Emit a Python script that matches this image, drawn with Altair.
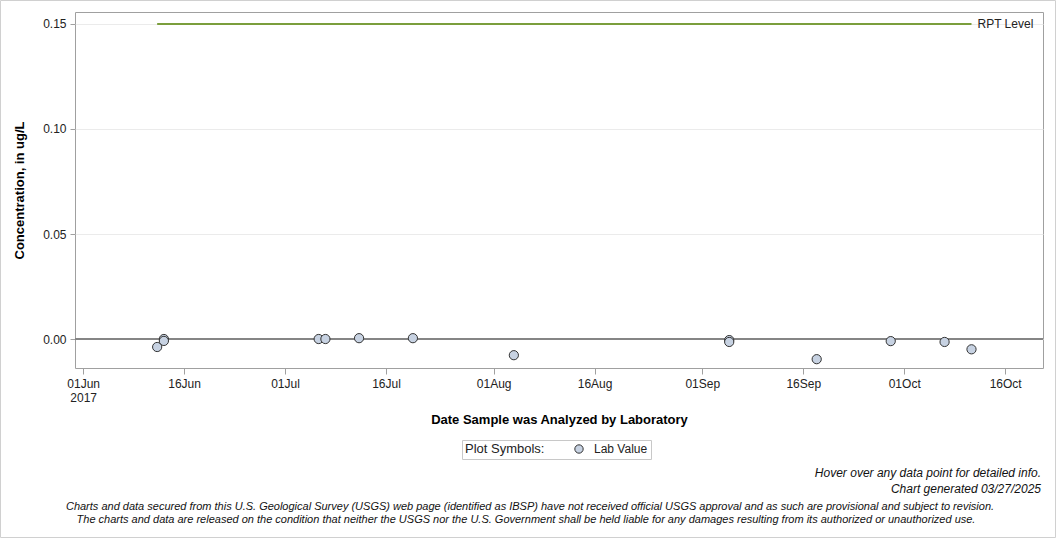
import altair as alt
import pandas as pd

# ---- data ----
sample_dates = ["2017-06-12", "2017-06-13", "2017-06-13", "2017-07-06", "2017-07-07",
                "2017-07-12", "2017-07-20", "2017-08-04", "2017-09-05", "2017-09-05",
                "2017-09-18", "2017-09-29", "2017-10-07", "2017-10-11"]
lab_values = [-0.0038, 0.0, -0.0009, 0.0, 0.0,
              0.0004, 0.0004, -0.0077, -0.0005, -0.0014,
              -0.0096, -0.0010, -0.0014, -0.0049]
rpt_dates = ["2017-06-12", "2017-10-11"]
rpt_values = [0.15, 0.15]
rpt_label = "RPT Level"
tick_dates = ["2017-06-01", "2017-06-16", "2017-07-01", "2017-07-16", "2017-08-01",
              "2017-08-16", "2017-09-01", "2017-09-16", "2017-10-01", "2017-10-16"]
y_ticks = [0.0, 0.05, 0.10, 0.15]
x_domain = ["2017-05-30T19:00:00", "2017-10-21T15:00:00"]
y_domain = [-0.0138, 0.1557]
footer_right = ["Hover over any data point for detailed info.", "Chart generated 03/27/2025"]
disclaimer = [
    "Charts and data secured from this U.S. Geological Survey (USGS) web page (identified as IBSP) have not received official USGS approval and as such are provisional and subject to revision.",
    "The charts and data are released on the condition that neither the USGS nor the U.S. Government shall be held liable for any damages resulting from its authorized or unauthorized use.",
]


def ms(s):
    return int(pd.Timestamp(s, tz="UTC").value // 10**6)


tick_ms = [ms(d) for d in tick_dates]
dom_ms = [ms(d) for d in x_domain]

pts = pd.DataFrame({"date": [ms(d) for d in sample_dates], "value": lab_values,
                    "series": ["Lab Value"] * len(lab_values)})
rpt = pd.DataFrame({"date": [ms(d) for d in rpt_dates], "value": rpt_values,
                    "label": [rpt_label] * len(rpt_values)})

W, H = 968, 356
LEFT, TOP = 75, 12

label_expr = ("utcFormat(datum.value, '%d%b') == '01Jun' ? ['01Jun', '2017'] : "
              "utcFormat(datum.value, '%d%b')")

x_enc = alt.X("date:T",
              scale=alt.Scale(type="utc", domain=dom_ms),
              axis=alt.Axis(values=tick_ms, labelExpr=label_expr, grid=False,
                            title="Date Sample was Analyzed by Laboratory",
                            titlePadding=10, labelPadding=4, tickSize=6,
                            labelFlush=False, labelOverlap=False))
y_enc = alt.Y("value:Q",
              scale=alt.Scale(domain=y_domain, nice=False, zero=False),
              axis=alt.Axis(values=y_ticks, format=".2f", grid=True,
                            title="Concentration, in ug/L", titlePadding=16,
                            labelPadding=4, tickSize=5))

zero = alt.Chart(pd.DataFrame({"value": [0.0]})).mark_rule(
    color="#858585", strokeWidth=2).encode(y=alt.Y("value:Q", scale=alt.Scale(domain=y_domain)))

rpt_line = alt.Chart(rpt).mark_line(color="#7b9e3c", strokeWidth=2).encode(x=x_enc, y=y_enc)
rpt_text = alt.Chart(rpt).transform_filter(
    alt.datum.date == ms(rpt_dates[-1])
).mark_text(align="left", baseline="middle", dx=6, fontSize=12, color="#222").encode(
    x=x_enc, y=y_enc, text="label:N")

points = alt.Chart(pts).mark_point(shape="circle", filled=True, size=85, stroke="#333333",
                                   strokeWidth=1, opacity=1).encode(
    x=x_enc, y=y_enc,
    fill=alt.Fill("series:N", scale=alt.Scale(range=["#c7d2e2"]),
                  legend=alt.Legend(orient="none", legendX=387, legendY=428,
                                    direction="horizontal", title="Plot Symbols:",
                                    titleOrient="left", titleFontWeight="normal",
                                    titleFontSize=13, titleColor="#222", labelFontSize=12,
                                    labelColor="#222", strokeColor="#c8c8c8", padding=3,
                                    symbolStrokeColor="#333333", symbolStrokeWidth=1,
                                    symbolSize=70, titlePadding=28, labelOffset=9,
                                    fillColor="white")))


def txt(t, x, y, align, size, italic=True):
    return alt.Chart(pd.DataFrame({"t": [t]})).mark_text(
        align=align, baseline="middle", fontSize=size, fontStyle="italic" if italic else "normal",
        color="#111").encode(text="t:N", x=alt.value(x), y=alt.value(y))


foot = [
    txt(footer_right[0], 1041 - LEFT, 473 - TOP, "right", 12),
    txt(footer_right[1], 1041 - LEFT, 489 - TOP, "right", 12),
    txt(disclaimer[0], 530 - LEFT, 507 - TOP, "center", 11),
    txt(disclaimer[1], 526 - LEFT, 520 - TOP, "center", 11),
]

border = alt.Chart(pd.DataFrame({"a": [0]})).mark_rect(
    fill=None, stroke="#d0d0d0", strokeWidth=1).encode(
    x=alt.value(-LEFT + 0.5), x2=alt.value(1056 - LEFT - 0.5),
    y=alt.value(-TOP + 0.5), y2=alt.value(538 - TOP - 0.5))

chart = alt.layer(zero, rpt_line, rpt_text, points, *foot, border).properties(
    width=W, height=H,
    autosize=alt.AutoSizeParams(type="none"),
    padding={"left": LEFT, "top": TOP, "right": 1056 - LEFT - W, "bottom": 538 - TOP - H},
    background="white",
).configure(font="Liberation Sans").configure_view(
    stroke="#a0a0a0", strokeWidth=1
).configure_axis(
    domain=False, tickColor="#a0a0a0", gridColor="#ebebeb", labelColor="#222",
    labelFontSize=12, titleFontSize=13, titleFontWeight="bold", titleColor="#000",
    labelFont="Liberation Sans", titleFont="Liberation Sans"
)

chart.save("out.html", embed_options={"renderer": "svg", "actions": False})
